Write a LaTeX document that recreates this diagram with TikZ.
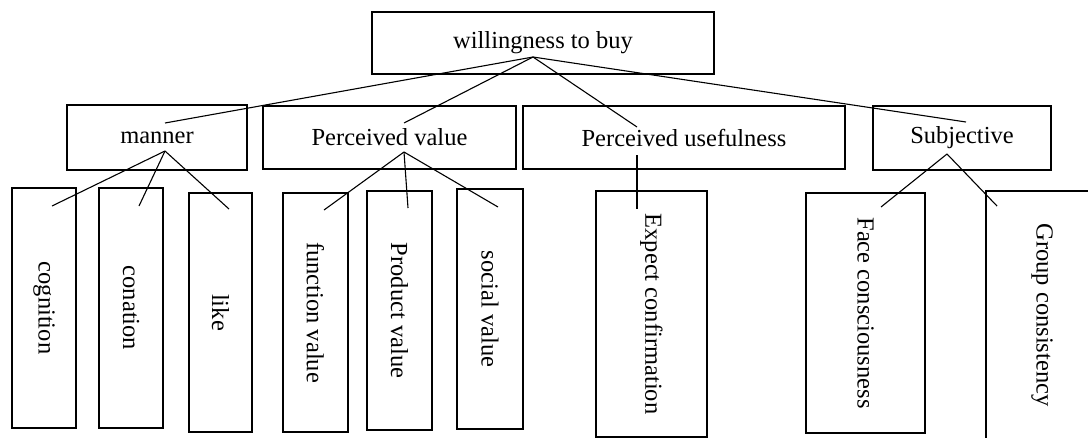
\documentclass[tikz,border=0pt]{standalone}
\usepackage{fontspec}
\setmainfont{Liberation Serif}
\begin{document}
\begin{tikzpicture}[x=1pt,y=-1pt,
  box/.style={draw=black, line width=2.3pt, inner sep=0pt, font=\fontsize{24.5}{28}\selectfont, fill=white},
  leaf/.style={box, rotate=-90},
  conn/.style={draw=black, line width=1.1pt}]
\useasboundingbox (0,0) rectangle (1088,437);
\clip (0,0) rectangle (1088,437);
\fill[white] (0,0) rectangle (1088,437);
% level 1
\node[box, minimum width=342pt, minimum height=62pt] (top) at (543,43) {willingness to buy};
% level 2
\node[box, minimum width=180pt, minimum height=65pt] (man) at (157,137.5) {manner};
\node[box, minimum width=253pt, minimum height=63pt] (pv) at (389.5,137.5) {Perceived value};
\node[box, minimum width=322pt, minimum height=63pt] (pu) at (684,137.5) {Perceived usefulness};
\node[box, minimum width=178pt, minimum height=64pt] (sub) at (962,138) {Subjective};
% level 3
\node[leaf, minimum width=240pt, minimum height=64pt] (cog) at (44,308) {cognition};
\node[leaf, minimum width=240pt, minimum height=64pt] (con) at (131,308) {conation};
\node[leaf, minimum width=239pt, minimum height=63pt] (like) at (220.5,312.5) {like};
\node[leaf, minimum width=239pt, minimum height=65pt] (fun) at (315.5,312.5) {function value};
\node[leaf, minimum width=239pt, minimum height=65pt] (prod) at (399.5,310.5) {Product value};
\node[leaf, minimum width=240pt, minimum height=66pt] (soc) at (490,309) {social value};
\node[leaf, minimum width=246pt, minimum height=111pt] (exp) at (651.5,314) {Expect confirmation};
\node[leaf, minimum width=240pt, minimum height=119pt] (face) at (865.5,313) {Face consciousness};
\node[leaf, minimum width=248pt, minimum height=112pt] (grp) at (1042,315) {Group consistency};
% hubs and line ends
\coordinate (tophub) at (533,57);
\coordinate (manin) at (165,123);
\coordinate (pvin) at (404,123);
\coordinate (puin) at (637,127);
\coordinate (subin) at (966,122);
\coordinate (manhub) at (165,151);
\coordinate (pvhub) at (404,152);
\coordinate (puhub) at (637,155);
\coordinate (subhub) at (947,154);
\coordinate (cogin) at (52,206);
\coordinate (conin) at (139,206);
\coordinate (likein) at (229,209);
\coordinate (funin) at (324,210);
\coordinate (prodin) at (408,208);
\coordinate (socin) at (498,207);
\coordinate (expin) at (637,209);
\coordinate (facein) at (881,207);
\coordinate (grpin) at (997,206);
% connectors
\draw[conn] (tophub) -- (manin);
\draw[conn] (tophub) -- (pvin);
\draw[conn] (tophub) -- (puin);
\draw[conn] (tophub) -- (subin);
\draw[conn] (manhub) -- (cogin);
\draw[conn] (manhub) -- (conin);
\draw[conn] (manhub) -- (likein);
\draw[conn] (pvhub) -- (funin);
\draw[conn] (pvhub) -- (prodin);
\draw[conn] (pvhub) -- (socin);
\draw[conn] (puhub) -- (expin);
\draw[conn] (subhub) -- (facein);
\draw[conn] (subhub) -- (grpin);
\end{tikzpicture}
\end{document}
